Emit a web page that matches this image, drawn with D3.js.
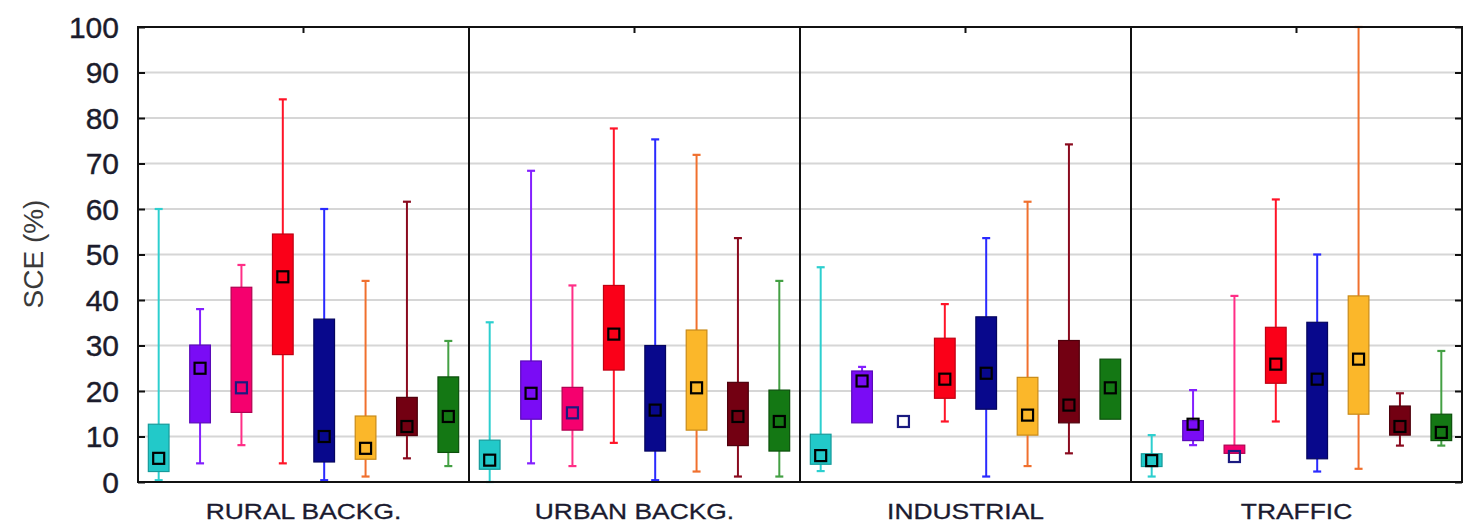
<!DOCTYPE html>
<html>
<head>
<meta charset="utf-8">
<script src="https://cdn.jsdelivr.net/npm/d3@7"></script>
<style>
  html, body { margin: 0; padding: 0; background: #fff; }
  svg { display: block; }
</style>
</head>
<body>
<svg id="chart" width="1463" height="526"></svg>
<script>
// Site types (one panel each)
const sites = ["RURAL BACKG.", "URBAN BACKG.", "INDUSTRIAL", "TRAFFIC"];
// Eight source groups drawn side by side within each panel
const groups = ["g1", "g2", "g3", "g4", "g5", "g6", "g7", "g8"];

// Box statistics per site (rows) and group (columns); null = not drawn
const whiskerLow = [
  [0.4, 4.1, 8.1, 4.1, 0.4, 1.2, 5.2, 3.5],
  [0.0, 4.1, 3.5, 8.6, 0.4, 2.3, 1.2, 1.2],
  [2.4, null, null, 13.3, 1.2, 3.5, 6.3, null],
  [1.2, 8.1, null, 13.3, 2.3, 2.9, 8.0, 8.0]
];
const boxLow = [
  [2.3, 13.0, 15.3, 28.0, 4.4, 5.0, 10.2, 6.5],
  [2.8, 13.8, 11.4, 24.6, 6.8, 11.4, 8.0, 6.8],
  [3.9, 13.0, null, 18.4, 16.0, 10.3, 13.0, 13.8],
  [3.4, 9.1, 6.3, 21.7, 5.1, 14.9, 10.3, 9.1]
];
const center = [
  [5.2, 25.0, 20.7, 45.1, 10.0, 7.4, 12.2, 14.4],
  [4.8, 19.5, 15.2, 32.5, 15.8, 20.7, 14.4, 13.3],
  [5.8, 22.2, 13.3, 22.6, 23.9, 14.7, 16.9, 20.7],
  [4.7, 12.7, 5.6, 25.9, 22.6, 27.0, 12.2, 10.9]
];
const boxHigh = [
  [12.7, 30.1, 42.8, 54.5, 35.8, 14.5, 18.6, 23.1],
  [9.2, 26.6, 20.8, 43.2, 30.0, 33.4, 21.9, 20.2],
  [10.5, 24.4, null, 31.6, 36.3, 23.0, 31.1, 27.0],
  [6.2, 13.5, 8.1, 34.0, 35.1, 40.9, 16.7, 14.9]
];
const whiskerHigh = [
  [60.0, 38.0, 47.7, 84.1, 60.0, 44.2, 61.6, 31.0],
  [35.1, 68.4, 43.2, 77.7, 75.3, 71.9, 53.6, 44.2],
  [47.2, 25.3, null, 39.1, 53.6, 61.6, 74.2, null],
  [10.3, 20.2, 40.9, 62.1, 50.0, 100.0, 19.5, 28.8]
];

const yTicks = [0, 10, 20, 30, 40, 50, 60, 70, 80, 90, 100];

// Group styling
const boxFill    = ["#22c9c9", "#7a0cf5", "#f5006e", "#fa0018", "#08088c", "#fbb72a", "#730012", "#147814"];
const boxStroke  = ["#169a9a", "#5a0ab8", "#b00050", "#c00012", "#05055e", "#c88a18", "#4e000c", "#0c500c"];
const lineColor  = ["#2ccfcf", "#8420ff", "#ff2e86", "#ff1428", "#2a2aff", "#f0702e", "#8a0a1e", "#44a044"];
const markStroke = ["#000", "#000", "#1a1a80", "#000", "#000", "#000", "#000", "#000"];

const svg = d3.select("#chart");
const plotLeft = 138, plotRight = 1462, plotTop = 27, plotBottom = 482;

const y = d3.scaleLinear().domain([0, 100]).range([plotBottom, plotTop]);
const xSite = d3.scaleBand().domain(sites).range([plotLeft, plotRight]).padding(0);
const xGroup = d3.scaleBand().domain(groups).range([0, xSite.bandwidth()])
  .paddingInner(0.5).paddingOuter(0.25);

// Horizontal grid lines
svg.append("g")
  .selectAll("line")
  .data(yTicks.filter(t => t > 0 && t < 100))
  .join("line")
  .attr("x1", plotLeft).attr("x2", plotRight)
  .attr("y1", d => y(d)).attr("y2", d => y(d))
  .attr("stroke", "#d6d6d6").attr("stroke-width", 2);

// Left axis with inward ticks and labels
const yAxisLeft = svg.append("g")
  .attr("transform", `translate(${plotLeft},0)`)
  .call(d3.axisRight(y).tickValues(yTicks).tickSize(7).tickFormat(""));
yAxisLeft.select(".domain").remove();
yAxisLeft.selectAll(".tick line").attr("stroke", "#111").attr("stroke-width", 2);

svg.append("g")
  .selectAll("text")
  .data(yTicks)
  .join("text")
  .attr("x", 119)
  .attr("y", d => y(d))
  .attr("dy", "0.36em")
  .attr("text-anchor", "end")
  .attr("font-family", "Liberation Sans, Arial, sans-serif")
  .attr("font-size", 30)
  .attr("fill", "#1c1c2c")
  .attr("stroke", "#1c1c2c").attr("stroke-width", 0.4)
  .text(d => d);

// Right axis inward ticks
const yAxisRight = svg.append("g")
  .attr("transform", `translate(${plotRight},0)`)
  .call(d3.axisLeft(y).tickValues(yTicks).tickSize(7).tickFormat(""));
yAxisRight.select(".domain").remove();
yAxisRight.selectAll(".tick line").attr("stroke", "#111").attr("stroke-width", 2);

// Top ticks at panel centres
const xAxisTop = svg.append("g")
  .attr("transform", `translate(0,${plotTop})`)
  .call(d3.axisBottom(xSite).tickSize(6).tickFormat(""));
xAxisTop.select(".domain").remove();
xAxisTop.selectAll(".tick line").attr("stroke", "#111").attr("stroke-width", 2);

// Boxes
const panels = svg.append("g")
  .selectAll("g.panel")
  .data(sites)
  .join("g")
  .attr("class", "panel")
  .attr("transform", d => `translate(${xSite(d)},0)`);

const bw = xGroup.bandwidth();
const capW = 8;

panels.each(function(site, si) {
  const g = d3.select(this);
  const items = groups.map((grp, gi) => ({
    gi,
    cx: xGroup(grp) + bw / 2,
    wl: whiskerLow[si][gi], bl: boxLow[si][gi], c: center[si][gi],
    bh: boxHigh[si][gi], wh: whiskerHigh[si][gi]
  }));

  items.forEach(d => {
    const col = lineColor[d.gi];
    // whisker lines and caps
    if (d.wh !== null && d.bh !== null) {
      g.append("line").attr("x1", d.cx).attr("x2", d.cx)
        .attr("y1", y(d.wh)).attr("y2", y(d.bh))
        .attr("stroke", col).attr("stroke-width", 2);
      g.append("line").attr("x1", d.cx - capW / 2).attr("x2", d.cx + capW / 2)
        .attr("y1", y(d.wh)).attr("y2", y(d.wh))
        .attr("stroke", col).attr("stroke-width", 2.2);
    }
    if (d.wl !== null && d.bl !== null) {
      g.append("line").attr("x1", d.cx).attr("x2", d.cx)
        .attr("y1", y(d.bl)).attr("y2", y(d.wl))
        .attr("stroke", col).attr("stroke-width", 2);
      g.append("line").attr("x1", d.cx - capW / 2).attr("x2", d.cx + capW / 2)
        .attr("y1", y(d.wl)).attr("y2", y(d.wl))
        .attr("stroke", col).attr("stroke-width", 2.2);
    }
    // box
    if (d.bl !== null && d.bh !== null) {
      g.append("rect")
        .attr("x", d.cx - bw / 2).attr("width", bw)
        .attr("y", y(d.bh)).attr("height", y(d.bl) - y(d.bh))
        .attr("fill", boxFill[d.gi])
        .attr("stroke", boxStroke[d.gi]).attr("stroke-width", 1.2);
    }
    // hollow centre marker
    const ms = 11;
    g.append("rect")
      .attr("x", d.cx - ms / 2).attr("y", y(d.c) - ms / 2)
      .attr("width", ms).attr("height", ms)
      .attr("fill", "none")
      .attr("stroke", markStroke[d.gi]).attr("stroke-width", 2.2);
  });
});

// Frame and panel dividers
svg.append("rect")
  .attr("x", plotLeft).attr("y", plotTop)
  .attr("width", plotRight - plotLeft).attr("height", plotBottom - plotTop)
  .attr("fill", "none").attr("stroke", "#111").attr("stroke-width", 2);

svg.append("g")
  .selectAll("line")
  .data(sites.slice(1))
  .join("line")
  .attr("x1", d => xSite(d)).attr("x2", d => xSite(d))
  .attr("y1", plotTop).attr("y2", plotBottom)
  .attr("stroke", "#111").attr("stroke-width", 2);

// Panel labels
svg.append("g")
  .selectAll("text")
  .data(sites)
  .join("text")
  .attr("transform", d => `translate(${xSite(d) + xSite.bandwidth() / 2},519) scale(1.2,1)`)
  .attr("text-anchor", "middle")
  .attr("font-family", "Liberation Sans, Arial, sans-serif")
  .attr("font-size", 22)
  .attr("fill", "#1b1b30")
  .attr("stroke", "#1b1b30").attr("stroke-width", 0.3)
  .text(d => d);

// Y axis title
svg.append("text")
  .attr("transform", "translate(43,254) rotate(-90)")
  .attr("text-anchor", "middle")
  .attr("font-family", "Liberation Sans, Arial, sans-serif")
  .attr("font-size", 28)
  .attr("fill", "#3a3a3a")
  .text("SCE (%)");
</script>
</body>
</html>
